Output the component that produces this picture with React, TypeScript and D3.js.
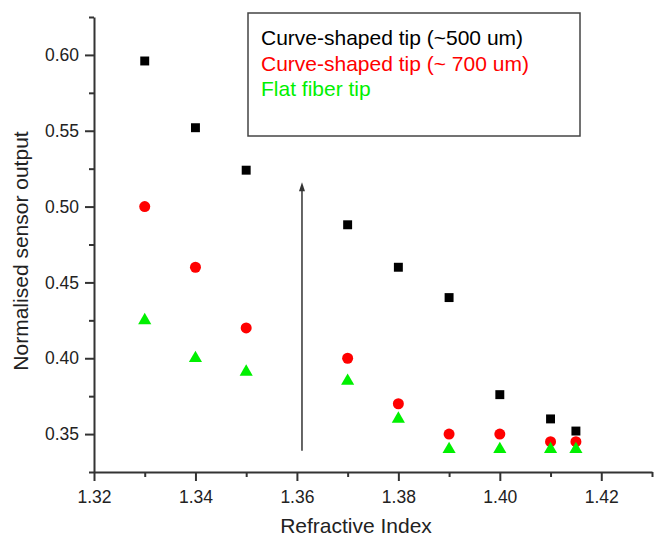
import React, { useEffect, useRef } from 'react';
import * as d3 from 'd3';

// refractive index values where each tip was measured
const refractiveIndex = [1.33, 1.34, 1.35, 1.37, 1.38, 1.39, 1.40, 1.41, 1.415];

// sensor output, one array per tip
const curve500 = [0.596, 0.552, 0.524, 0.488, 0.460, 0.440, 0.376, 0.360, 0.352];
const curve700 = [0.500, 0.460, 0.420, 0.400, 0.370, 0.350, 0.350, 0.345, 0.345];
const flatTip = [0.425, 0.400, 0.391, 0.385, 0.360, 0.340, 0.340, 0.340, 0.340];

const legendLabels = ['Curve-shaped tip (~500 um)', 'Curve-shaped tip (~ 700 um)', 'Flat fiber tip'];
const seriesColors = ['#000000', '#ff0000', '#00f000'];

const xTicks = [1.32, 1.34, 1.36, 1.38, 1.40, 1.42];
const yTicks = [0.35, 0.40, 0.45, 0.50, 0.55, 0.60];

// the arrow drawn inside the plot (x, y from, y to)
const arrowX = 1.361;
const arrowFrom = 0.339;
const arrowTo = 0.516;

function App() {
  const ref = useRef<SVGSVGElement>(null);

  useEffect(() => {
    const width = 654;
    const height = 537;
    const left = 94, right = 652, top = 17, bottom = 472;
    const font = '"Liberation Sans", Arial, sans-serif';
    const axisColor = '#333';

    const svg = d3.select(ref.current);
    svg.selectAll('*').remove();
    svg.attr('width', width).attr('height', height);

    const x = d3.scaleLinear().domain([1.32, 1.43]).range([left, right]);
    const y = d3.scaleLinear().domain([0.325, 0.625]).range([bottom, top]);

    // x axis: major ticks with labels, minor ones every 0.01
    const xMinor = d3.range(1.33, 1.435, 0.02).map(v => +v.toFixed(2));
    const gx = svg.append('g').attr('transform', `translate(0,${bottom})`);
    gx.call(d3.axisBottom(x).tickValues(xMinor).tickSize(5).tickFormat(() => ''));
    gx.call(g => g.select('.domain').remove());
    const gx2 = svg.append('g').attr('transform', `translate(0,${bottom})`);
    gx2.call(d3.axisBottom(x).tickValues(xTicks).tickSize(9).tickSizeOuter(0).tickPadding(10).tickFormat(d3.format('.2f')));
    gx2.select('.domain').attr('stroke-width', 2);

    // y axis
    const yMinor = d3.range(0.375, 0.63, 0.05).map(v => +v.toFixed(3));
    const gy = svg.append('g').attr('transform', `translate(${left},0)`);
    gy.call(d3.axisLeft(y).tickValues(yMinor.concat([0.325])).tickSize(5).tickFormat(() => ''));
    gy.call(g => g.select('.domain').remove());
    const gy2 = svg.append('g').attr('transform', `translate(${left},0)`);
    gy2.call(d3.axisLeft(y).tickValues(yTicks).tickSize(9).tickSizeOuter(0).tickPadding(6).tickFormat(d3.format('.2f')));
    gy2.select('.domain').attr('stroke-width', 2);

    svg.selectAll('.tick line').attr('stroke', axisColor).attr('stroke-width', 2);
    svg.selectAll('.domain').attr('stroke', axisColor);
    svg.selectAll('.tick text')
      .attr('fill', '#222')
      .style('font-family', font)
      .style('font-size', '17.5px');

    // axis titles
    svg.append('text')
      .attr('x', 356)
      .attr('y', 533)
      .attr('text-anchor', 'middle')
      .style('font-family', font)
      .style('font-size', '21px')
      .attr('fill', '#222')
      .text('Refractive Index');

    svg.append('text')
      .attr('transform', 'rotate(-90)')
      .attr('x', -251)
      .attr('y', 28)
      .attr('text-anchor', 'middle')
      .style('font-family', font)
      .style('font-size', '21px')
      .attr('fill', '#222')
      .text('Normalised sensor output');

    // arrow
    svg.append('line')
      .attr('x1', x(arrowX)).attr('x2', x(arrowX))
      .attr('y1', y(arrowFrom)).attr('y2', y(arrowTo) + 6)
      .attr('stroke', axisColor)
      .attr('stroke-width', 1.5);
    svg.append('path')
      .attr('d', `M${x(arrowX)},${y(arrowTo)} l-3,9 l6,0 Z`)
      .attr('fill', axisColor);

    // points
    const series = [
      { values: curve500, symbol: d3.symbolSquare, size: 80 },
      { values: curve700, symbol: d3.symbolCircle, size: 95 },
      { values: flatTip, symbol: d3.symbolTriangle, size: 75 },
    ];
    series.forEach((s, i) => {
      svg.append('g')
        .selectAll('path')
        .data(s.values)
        .enter()
        .append('path')
        .attr('transform', (d, j) => `translate(${x(refractiveIndex[j])},${y(d)})`)
        .attr('d', d3.symbol().type(s.symbol).size(s.size)())
        .attr('fill', seriesColors[i]);
    });

    // legend box
    svg.append('rect')
      .attr('x', 248).attr('y', 13)
      .attr('width', 332).attr('height', 123)
      .attr('fill', 'white')
      .attr('stroke', '#444')
      .attr('stroke-width', 1.5);
    legendLabels.forEach((label, i) => {
      svg.append('text')
        .attr('x', 261)
        .attr('y', 45 + i * 25.5)
        .style('font-family', font)
        .style('font-size', '21px')
        .attr('fill', seriesColors[i])
        .text(label);
    });
  }, []);

  return (
    <div style={{ position: 'absolute', left: 0, top: 0 }}>
      <svg ref={ref} style={{ display: 'block', background: 'white' }}></svg>
    </div>
  );
}

export default App;
